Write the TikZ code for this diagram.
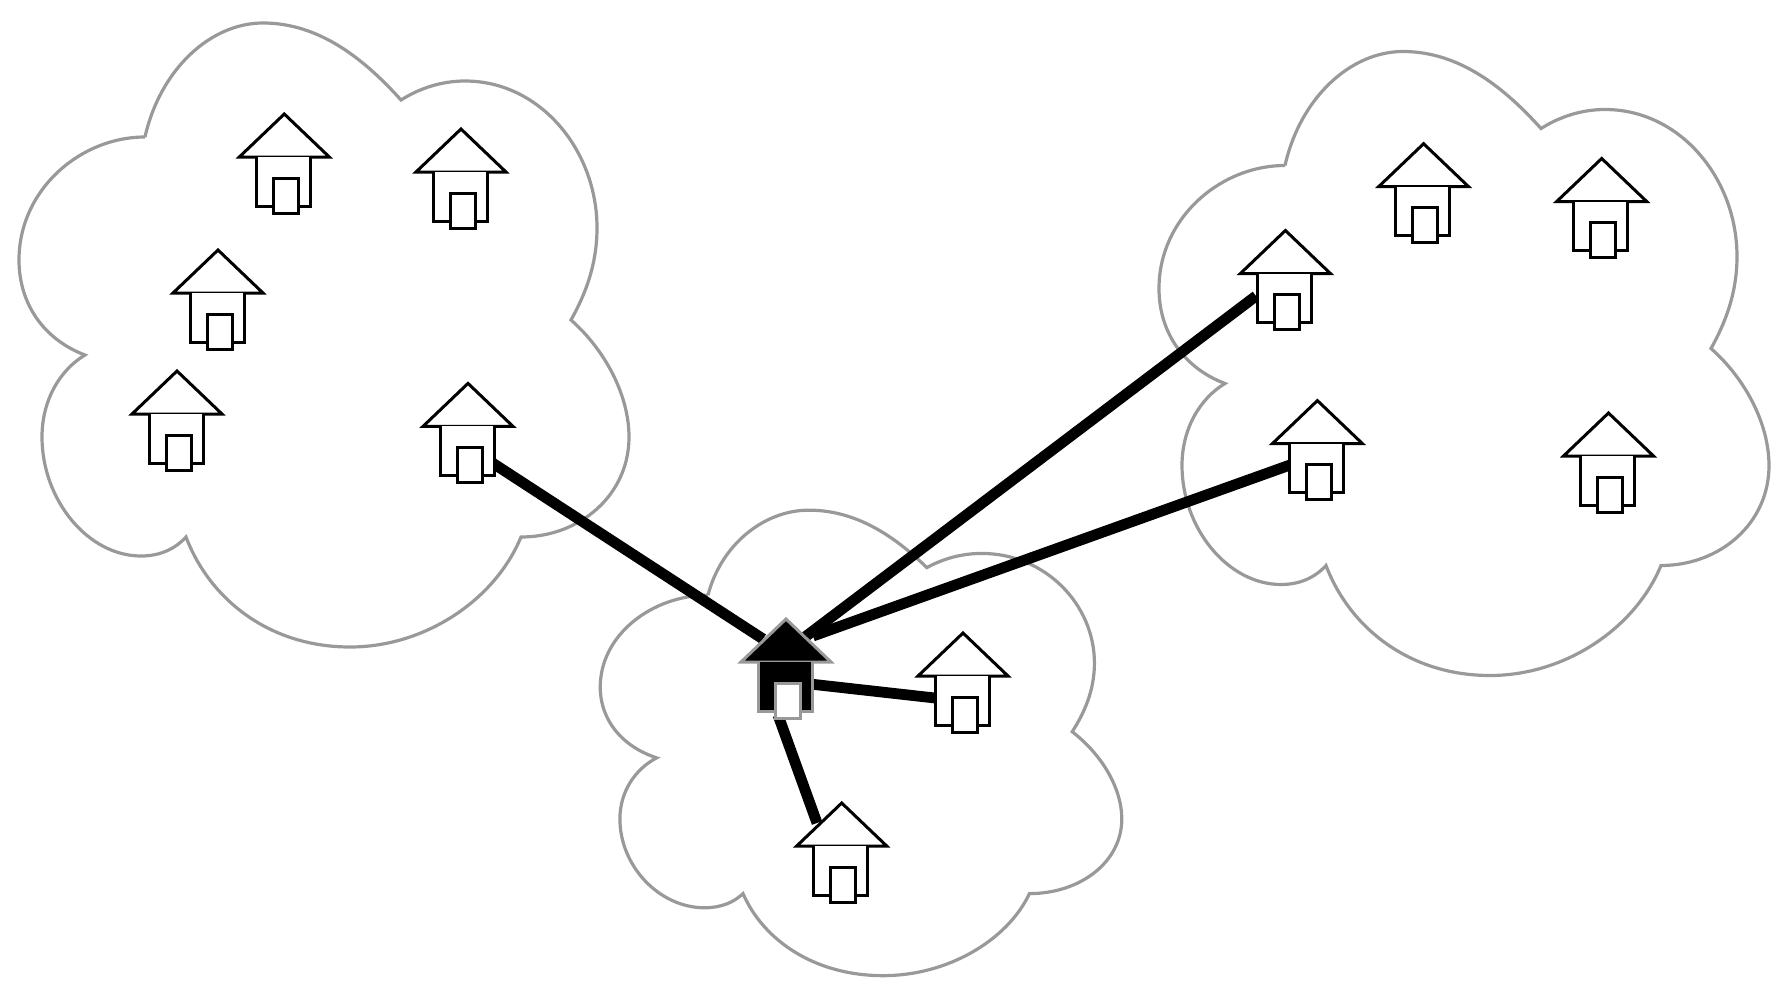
\documentclass[tikz,border=0pt]{standalone}
\usepackage{tikz}
\tikzset{
    cloudline/.style={draw=black!40, line width=1.6pt, line join=miter},
    linkline/.style={draw=black, line width=5.4pt},
    pics/cloudshape/.style={code={
        \draw[cloudline] (145,137)
            .. controls (160,70) and (210,23) .. (263,23)
            .. controls (320,23) and (365,60) .. (401,100)
            .. controls (420,88) and (442,81) .. (465,81)
            .. controls (540,81) and (597,150) .. (597,228)
            .. controls (597,265) and (585,295) .. (571,320)
            .. controls (605,350) and (629,395) .. (629,437)
            .. controls (629,495) and (580,537) .. (521,537)
            .. controls (495,600) and (425,647) .. (350,647)
            .. controls (270,647) and (210,600) .. (186,537)
            .. controls (175,549) and (160,556) .. (141,556)
            .. controls (88,556) and (42,500) .. (42,437)
            .. controls (42,400) and (60,370) .. (85,355)
            .. controls (45,340) and (19,305) .. (19,260)
            .. controls (19,190) and (80,137) .. (145,137);
    }},
    pics/house/.style 2 args={code={
        \draw[draw=#1, fill=#2, line width=1.5pt] (0,1) -- (45,44) -- (-45,44) -- cycle;
        \draw[draw=#1, fill=#2, line width=1.5pt] (-28,44) -- (-28,93) -- (26,93) -- (26,44);
        \draw[draw=#1, fill=white, line width=1.5pt] (-11,65) rectangle (14,100);
    }}
}

\begin{document}
\begin{tikzpicture}[x=0.5pt, y=-0.5pt]
    \useasboundingbox (0,0) rectangle (1790,996);

    % Clouds
    \pic (cloudwest) at (0,0) {cloudshape};
    \pic (cloudeast) at (1140,28.5) {cloudshape};
    \pic[xscale=0.855, yscale=0.746] (cloudhub) at (584,493) {cloudshape};

    % Link ends
    \coordinate (hubw) at (763,639);
    \coordinate (hubn) at (805,637);
    \coordinate (hubne) at (813,636);
    \coordinate (hube) at (810,684);
    \coordinate (hubs) at (778,715);
    \coordinate (endw) at (491,462);
    \coordinate (endn) at (1256,296);
    \coordinate (endne) at (1290,465);
    \coordinate (ende) at (935,698);
    \coordinate (ends) at (817,823);

    % Links
    \draw[linkline] (hubw) -- (endw);
    \draw[linkline] (hubn) -- (endn);
    \draw[linkline] (hubne) -- (endne);
    \draw[linkline] (hube) -- (ende);
    \draw[linkline] (hubs) -- (ends);

    % Houses in the west cloud
    \pic (west1) at (284.3,113) {house={black}{white}};
    \pic (west2) at (461,128) {house={black}{white}};
    \pic (west3) at (218,249) {house={black}{white}};
    \pic (west4) at (177,370) {house={black}{white}};
    \pic (west5) at (468,382.4) {house={black}{white}};

    % Houses in the east cloud
    \pic (east1) at (1423.6,142.7) {house={black}{white}};
    \pic (east2) at (1601.7,157.5) {house={black}{white}};
    \pic (east3) at (1285.4,229.5) {house={black}{white}};
    \pic (east4) at (1317.4,399.6) {house={black}{white}};
    \pic (east5) at (1608.5,412) {house={black}{white}};

    % Houses in the middle cloud
    \pic (hubhouse) at (786,618) {house={black!40}{black}};
    \pic (mid1) at (963,632) {house={black}{white}};
    \pic (mid2) at (841.7,802) {house={black}{white}};
\end{tikzpicture}
\end{document}
